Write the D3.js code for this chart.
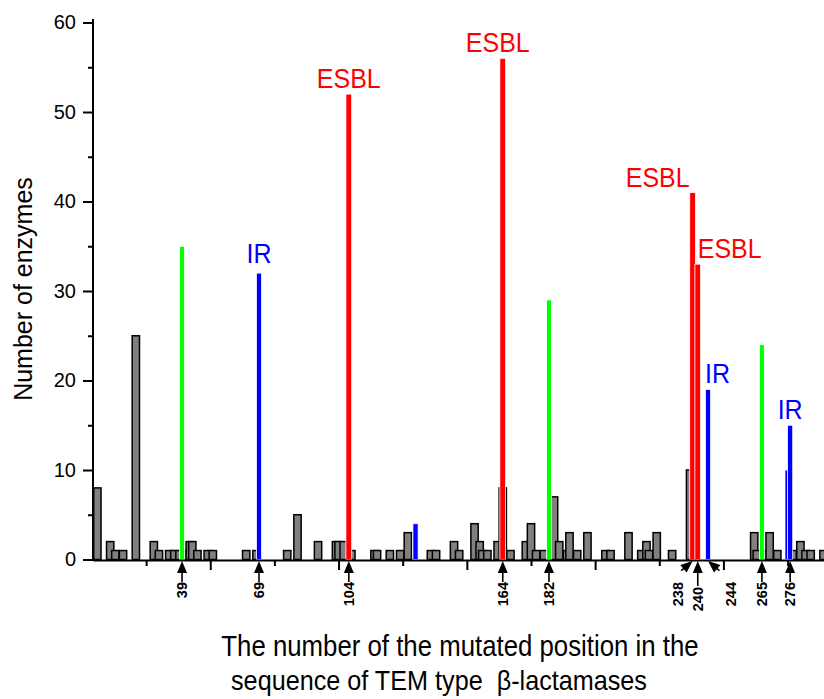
<!DOCTYPE html>
<html>
<head>
<meta charset="utf-8">
<script src="https://d3js.org/d3.v7.min.js"></script>
<style>
  body { margin: 0; background: #fff; }
  svg { display: block; font-family: "Liberation Sans", Arial, sans-serif; }
</style>
</head>
<body>
<svg id="chart" width="824" height="699"></svg>
<script>
// gray bars: mutated position -> number of enzymes
const grayPos = [6, 11, 13, 16, 21, 28, 30, 34, 36, 38, 40, 42, 43, 45, 49, 51, 64, 68,
  80, 84, 92, 99, 100, 102, 105, 114, 115, 120, 124, 127, 136, 138, 145, 147,
  153, 155, 156, 158, 162, 164, 167, 173, 175, 177, 180, 184, 186, 189, 190, 193, 197,
  204, 206, 213, 218, 220, 221, 224, 230, 237, 262, 263, 266, 268, 271, 277, 280, 282, 284, 289];
const grayVal = [8, 2, 1, 1, 25, 2, 1, 1, 1, 1, 1, 2, 2, 1, 1, 1, 1, 1,
  1, 5, 2, 2, 2, 2, 1, 1, 1, 1, 1, 3, 1, 1, 2, 1,
  4, 2, 1, 1, 2, 8, 1, 2, 4, 1, 1, 7, 2, 1, 3, 1, 3,
  1, 1, 3, 1, 2, 1, 3, 1, 10, 3, 1, 1, 3, 1, 1, 2, 1, 1, 1];

// highlighted positions
const hiPos = [39, 69, 104, 130, 164, 182, 238, 240, 244, 265, 275, 276];
const hiVal = [35, 32, 52, 4, 56, 29, 41, 33, 19, 24, 10, 15];
const hiType = ["other", "IR", "ESBL", "IR", "ESBL", "other", "ESBL", "ESBL", "IR", "other", "IR", "IR"];

// text tags above bars
const tagPos = [69, 104, 164, 238, 240, 244, 276];
const tagText = ["IR", "ESBL", "ESBL", "ESBL", "ESBL", "IR", "IR"];

// arrow labels under the axis
const arrowPos = [39, 69, 104, 164, 182, 238, 240, 244, 265, 276];
const arrowText = ["39", "69", "104", "164", "182", "238", "240", "244", "265", "276"];

const yTicks = [0, 10, 20, 30, 40, 50, 60];

const colors = { ESBL: "#ff0000", IR: "#0000ff", other: "#00ff00" };

const svg = d3.select("#chart");
const baseY = 560;

const x = d3.scaleLinear().domain([4.3, 289.2]).range([93, 824]);
const y = d3.scaleLinear().domain([0, 60]).range([559.5, 22.5]);

// gray bars
const grayData = grayPos.map((p, i) => ({ p, v: grayVal[i] }));
const bw = x(2.85) - x(0);
svg.append("g")
  .selectAll("rect")
  .data(grayData)
  .join("rect")
  .attr("x", d => x(d.p) - bw / 2)
  .attr("y", d => y(d.v))
  .attr("width", bw)
  .attr("height", d => y(0) - y(d.v))
  .attr("fill", "#808080")
  .attr("stroke", "#000")
  .attr("stroke-width", 1.5);

// colored bars
const hiData = hiPos.map((p, i) => ({ p, v: hiVal[i], t: hiType[i] }));
const hw = { ESBL: 5.8, IR: 5.2, other: 4.8 };
svg.append("g")
  .selectAll("rect")
  .data(hiData)
  .join("rect")
  .attr("x", d => x(d.p) - hw[d.t] / 2)
  .attr("y", d => y(d.v))
  .attr("width", d => hw[d.t])
  .attr("height", d => y(0) - y(d.v))
  .attr("fill", d => colors[d.t])
  .attr("stroke", "#fff")
  .attr("stroke-width", 0.8);

// tags
const anchorFor = { 238: "end", 240: "start", 244: "start" };
const shiftFor = { 238: -3, 240: 0, 244: -3, 164: -5 };
tagPos.forEach((p, i) => {
  const v = hiVal[hiPos.indexOf(p)];
  const t = hiType[hiPos.indexOf(p)];
  svg.append("text")
    .attr("transform", `translate(${x(p) + (shiftFor[p] || 0)},${y(v) - (p === 69 ? 10 : 6)}) scale(1,1.08)`)
    .attr("text-anchor", anchorFor[p] || "middle")
    .attr("font-size", 25)
    .attr("fill", colors[t])
    .text(tagText[i]);
});

// y axis
const yAxis = svg.append("g")
  .attr("transform", "translate(93,0)")
  .call(d3.axisLeft(y).tickValues(yTicks).tickSize(10).tickSizeOuter(0).tickPadding(7));
yAxis.select(".domain").attr("stroke-width", 2).attr("d", `M0,19V${baseY + 1}`);
yAxis.selectAll(".tick line").attr("stroke-width", 2);
yAxis.selectAll(".tick text").attr("font-size", 20).attr("font-family", "Liberation Sans, Arial, sans-serif").attr("fill", "#000");
svg.append("g")
  .attr("transform", "translate(93,0)")
  .call(d3.axisLeft(y).tickValues([5, 15, 25, 35, 45, 55]).tickSize(5).tickFormat(""))
  .call(g => g.select(".domain").remove())
  .selectAll(".tick line").attr("stroke-width", 2);

// x axis
const xAxis = svg.append("g")
  .attr("transform", `translate(0,${baseY})`)
  .call(d3.axisBottom(x).tickValues([50, 100, 150, 200, 250]).tickSize(10).tickSizeOuter(0).tickFormat(""));
xAxis.select(".domain").attr("stroke-width", 2);
xAxis.selectAll(".tick line").attr("stroke-width", 2);
svg.append("g")
  .attr("transform", `translate(0,${baseY})`)
  .call(d3.axisBottom(x).tickValues([25, 75, 125, 175, 225, 275]).tickSize(6).tickFormat(""))
  .call(g => g.select(".domain").remove())
  .selectAll(".tick line").attr("stroke-width", 2);

// arrows
const tiltFor = { 238: 50, 244: -50 };
const labelDx = { 238: -15, 244: 23 };
arrowPos.forEach((p, i) => {
  const tx = x(p), ty = baseY + 1;
  const tilt = tiltFor[p] || 0;
  const stem = tilt ? 15 : (p === 240 ? 25 : 21);
  const g = svg.append("g").attr("transform", `translate(${tx},${ty}) rotate(${tilt})`);
  g.append("path").attr("d", "M0,0L-5,12L5,12Z").attr("fill", "#000");
  g.append("line").attr("x1", 0).attr("y1", 11).attr("x2", 0).attr("y2", stem)
    .attr("stroke", "#000").attr("stroke-width", 1.6);
  const ly = p === 240 ? 587 : 582;
  svg.append("text")
    .attr("transform", `translate(${tx + (labelDx[p] || 0)},${ly}) rotate(-90)`)
    .attr("text-anchor", "end")
    .attr("dy", "0.36em")
    .attr("font-size", 14.5)
    .attr("font-weight", "bold")
    .text(arrowText[i]);
});

// axis titles
svg.append("text")
  .attr("transform", "translate(32,289) rotate(-90)")
  .attr("text-anchor", "middle")
  .attr("font-size", 25)
  .text("Number of enzymes");
svg.append("text")
  .attr("transform", "translate(460,656) scale(1,1.12)")
  .attr("text-anchor", "middle")
  .attr("font-size", 25.8)
  .text("The number of the mutated position in the");
svg.append("text")
  .attr("transform", "translate(439,690) scale(1,1.12)")
  .attr("text-anchor", "middle")
  .attr("font-size", 25.2)
  .style("white-space", "pre")
  .text("sequence of TEM type  β-lactamases");
</script>
</body>
</html>
